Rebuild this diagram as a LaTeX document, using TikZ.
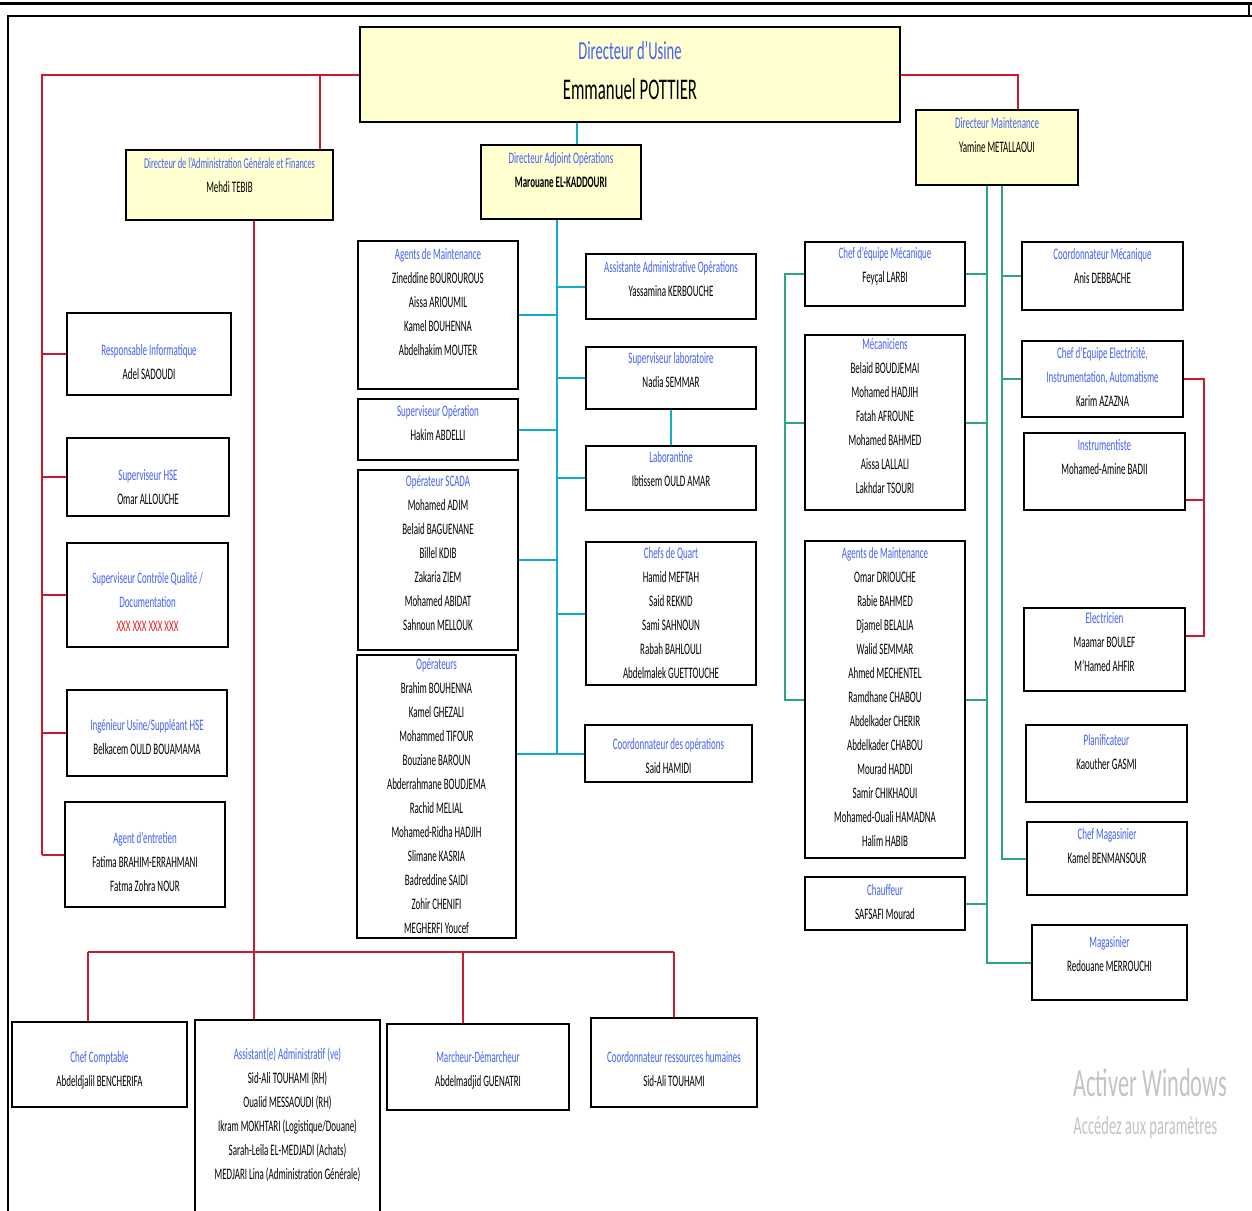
\documentclass[tikz,border=0pt]{standalone}
\usepackage{fontspec}
\setmainfont{Carlito}[FakeStretch=0.56]
\usetikzlibrary{calc}
\definecolor{dirYellow}{RGB}{255,255,208}
\definecolor{titleBlue}{RGB}{66,96,250}
\definecolor{linkRed}{RGB}{205,25,45}
\definecolor{opsCyan}{RGB}{20,170,205}
\definecolor{maintTeal}{RGB}{45,165,125}
\definecolor{wmGray}{RGB}{195,195,195}
\definecolor{xxxRed}{RGB}{235,30,30}
\tikzset{
  dir box/.style={draw=black,line width=1pt,fill=dirYellow,align=flush center,inner sep=1pt,font=\fontsize{8}{12}\selectfont},
  staff box/.style={draw=black,line width=1pt,fill=white,align=flush center,inner sep=1pt,font=\fontsize{8}{12}\selectfont},
  box size/.style 2 args={minimum width=#1,text width=#1-2pt,minimum height=#2},
  lift/.style={execute at end node={\par\vspace*{#1}}},
  red link/.style={draw=linkRed,line width=1pt},
  ops link/.style={draw=opsCyan,line width=1pt},
  maint link/.style={draw=maintTeal,line width=1pt},
  watermark/.style={text=wmGray,anchor=west,inner sep=0pt}
}

\begin{document}
\begin{tikzpicture}[x=0.5pt,y=-0.5pt]
\useasboundingbox (0,0) rectangle (1252,1210);
% page frame
\draw[line width=1.5pt] (0,3) -- (1252,3);
\draw[line width=1.2pt] (8,1215) -- (8,16) -- (1252,16);
\draw[line width=1.2pt] (1249,3) -- (1249,16);

% directors
\node[dir box,box size={270pt}{47.5pt},lift=4pt] (dirUsine) at (630,74.5) {\fontsize{13}{12}\selectfont\textcolor{titleBlue}{Directeur d'Usine}\\[8pt]\fontsize{15}{12}\selectfont Emmanuel POTTIER};
\node[dir box,box size={103.5pt}{35pt},lift=10pt] (dirAdmin) at (229.5,185) {{\fontsize{7.5}{12}\selectfont\textcolor{titleBlue}{Directeur de l'Administration Générale et Finances}}\\Mehdi TEBIB};
\node[dir box,box size={80pt}{37pt},lift=12pt] (dirAdjOps) at (561,182) {\textcolor{titleBlue}{Directeur Adjoint Opérations}\\\textbf{Marouane EL-KADDOURI}};
\node[dir box,box size={81pt}{37.5pt},lift=12pt] (dirMaint) at (997,147.5) {\textcolor{titleBlue}{Directeur Maintenance}\\Yamine METALLAOUI};

% administration
\node[staff box,box size={82pt}{41pt},lift=-8pt] (respInfo) at (149,354) {\textcolor{titleBlue}{Responsable Informatique}\\Adel SADOUDI};
\node[staff box,box size={81pt}{39pt},lift=-10pt] (supHSE) at (148,477) {\textcolor{titleBlue}{Superviseur HSE}\\Omar ALLOUCHE};
\node[staff box,box size={80.5pt}{52pt},lift=-7pt] (supQual) at (147.5,595) {\textcolor{titleBlue}{Superviseur Contrôle Qualité /}\\\textcolor{titleBlue}{Documentation}\\\textcolor{xxxRed}{XXX XXX XXX XXX}};
\node[staff box,box size={80pt}{43pt},lift=-4pt] (ingUsine) at (147,733) {\textcolor{titleBlue}{Ingénieur Usine/Suppléant HSE}\\Belkacem OULD BOUAMAMA};
\node[staff box,box size={80pt}{52.5pt},lift=-7pt] (agentEnt) at (145,854.5) {\textcolor{titleBlue}{Agent d'entretien}\\Fatima BRAHIM-ERRAHMANI\\Fatma Zohra NOUR};
\node[staff box,box size={87.5pt}{42.5pt},lift=-6pt] (chefCompt) at (99.5,1064.5) {\textcolor{titleBlue}{Chef Comptable}\\Abdeldjalil BENCHERIFA};
\node[staff box,box size={92.5pt}{105pt},lift=10pt] (assistAdm) at (287.5,1125) {\textcolor{titleBlue}{Assistant(e) Administratif (ve)}\\Sid-Ali TOUHAMI (RH)\\Oualid MESSAOUDI (RH)\\Ikram MOKHTARI (Logistique/Douane)\\Sarah-Leila EL-MEDJADI (Achats)\\MEDJARI Lina (Administration Générale)};
\node[staff box,box size={91pt}{43pt},lift=-3pt] (marcheur) at (478,1067) {\textcolor{titleBlue}{Marcheur-Démarcheur}\\Abdelmadjid GUENATRI};
\node[staff box,box size={83pt}{44.5pt},lift=-6pt] (coordRH) at (674,1062.5) {\textcolor{titleBlue}{Coordonnateur ressources humaines}\\Sid-Ali TOUHAMI};

% operations
\node[staff box,box size={80pt}{74pt},lift=13pt] (agMaintOps) at (438,315) {\textcolor{titleBlue}{Agents de Maintenance}\\Zineddine BOUROUROUS\\Aissa ARIOUMIL\\Kamel BOUHENNA\\Abdelhakim MOUTER};
\node[staff box,box size={80pt}{30.5pt},lift=6pt] (supOp) at (438,429.5) {\textcolor{titleBlue}{Superviseur Opération}\\Hakim ABDELLI};
\node[staff box,box size={80pt}{90pt},lift=7pt] (opScada) at (438,560) {\textcolor{titleBlue}{Opérateur SCADA}\\Mohamed ADIM\\Belaid BAGUENANE\\Billel KDIB\\Zakaria ZIEM\\Mohamed ABIDAT\\Sahnoun MELLOUK};
\node[staff box,box size={79.5pt}{141.5pt}] (operateurs) at (436.5,796.5) {\textcolor{titleBlue}{Opérateurs}\\Brahim BOUHENNA\\Kamel GHEZALI\\Mohammed TIFOUR\\Bouziane BAROUN\\Abderrahmane BOUDJEMA\\Rachid MELIAL\\Mohamed-Ridha HADJIH\\Slimane KASRIA\\Badreddine SAIDI\\Zohir CHENIFI\\MEGHERFI Youcef};
\node[staff box,box size={85pt}{32.5pt},lift=8pt] (assistOps) at (671,286.5) {\textcolor{titleBlue}{Assistante Administrative Opérations}\\Yassamina KERBOUCHE};
\node[staff box,box size={85pt}{31pt},lift=8pt] (supLabo) at (671,378) {\textcolor{titleBlue}{Superviseur laboratoire}\\Nadia SEMMAR};
\node[staff box,box size={85pt}{32pt},lift=9pt] (laborantine) at (671,478) {\textcolor{titleBlue}{Laborantine}\\Ibtissem OULD AMAR};
\node[staff box,box size={85pt}{71.5pt},lift=1pt] (chefsQuart) at (671,613.5) {\textcolor{titleBlue}{Chefs de Quart}\\Hamid MEFTAH\\Said REKKID\\Sami SAHNOUN\\Rabah BAHLOULI\\Abdelmalek GUETTOUCHE};
\node[staff box,box size={83.5pt}{28.5pt},lift=-2pt] (coordOps) at (668.5,753.5) {\textcolor{titleBlue}{Coordonnateur des opérations}\\Said HAMIDI};

% maintenance
\node[staff box,box size={80pt}{32pt},lift=8pt] (chefEqMeca) at (885,274) {\textcolor{titleBlue}{Chef d'équipe Mécanique}\\Feyçal LARBI};
\node[staff box,box size={80pt}{87.5pt},lift=6pt] (mecaniciens) at (885,422.5) {\textcolor{titleBlue}{Mécaniciens}\\Belaid BOUDJEMAI\\Mohamed HADJIH\\Fatah AFROUNE\\Mohamed BAHMED\\Aissa LALLALI\\Lakhdar TSOURI};
\node[staff box,box size={80pt}{158.5pt},lift=3pt] (agMaintMaint) at (885,699.5) {\textcolor{titleBlue}{Agents de Maintenance}\\Omar DRIOUCHE\\Rabie BAHMED\\Djamel BELALIA\\Walid SEMMAR\\Ahmed MECHENTEL\\Ramdhane CHABOU\\Abdelkader CHERIR\\Abdelkader CHABOU\\Mourad HADDI\\Samir CHIKHAOUI\\Mohamed-Ouali HAMADNA\\Halim HABIB};
\node[staff box,box size={80pt}{26.5pt},lift=2pt] (chauffeur) at (885,903.5) {\textcolor{titleBlue}{Chauffeur}\\SAFSAFI Mourad};
\node[staff box,box size={80.5pt}{34pt},lift=10pt] (coordMeca) at (1102.5,276) {\textcolor{titleBlue}{Coordonnateur Mécanique}\\Anis DEBBACHE};
\node[staff box,box size={80.5pt}{38pt},lift=2pt] (chefElec) at (1102.5,379) {\textcolor{titleBlue}{Chef d'Equipe Electricité,}\\\textcolor{titleBlue}{Instrumentation, Automatisme}\\Karim AZAZNA};
\node[staff box,box size={80.5pt}{38.5pt},lift=14pt] (instrum) at (1104.5,471.5) {\textcolor{titleBlue}{Instrumentiste}\\Mohamed-Amine BADII};
\node[staff box,box size={80.5pt}{41.5pt},lift=8pt] (electricien) at (1104.5,649.5) {\textcolor{titleBlue}{Electricien}\\Maamar BOULEF\\M'Hamed AHFIR};
\node[staff box,box size={80.5pt}{38.5pt},lift=12pt] (planif) at (1106.5,763.5) {\textcolor{titleBlue}{Planificateur}\\Kaouther GASMI};
\node[staff box,box size={80pt}{36.5pt},lift=13pt] (chefMag) at (1107,858.5) {\textcolor{titleBlue}{Chef Magasinier}\\Kamel BENMANSOUR};
\node[staff box,box size={77.5pt}{37.5pt},lift=8pt] (magasinier) at (1109.5,962.5) {\textcolor{titleBlue}{Magasinier}\\Redouane MERROUCHI};

% administration links
\coordinate (redX) at (42,80);
\draw[red link] (dirUsine.west) -- (dirUsine.west -| redX) -- (agentEnt.west -| redX);
\foreach \n in {respInfo,supHSE,supQual,ingUsine,agentEnt}
  \draw[red link] (\n.west -| redX) -- (\n.west);
\coordinate (adminTop) at ([xshift=-7pt]dirAdmin.north east);
\draw[red link] (adminTop) |- (dirUsine.west);
\coordinate (adminDrop) at ([xshift=12pt]dirAdmin.south);
\draw[red link] (adminDrop) -- (adminDrop |- assistAdm.north);
\coordinate (busY) at (0,952);
\coordinate (comptTop) at ([xshift=-6pt]chefCompt.north);
\coordinate (marchTop) at ([xshift=-7.5pt]marcheur.north);
\draw[red link] (comptTop |- busY) -- (coordRH.north |- busY);
\foreach \n in {comptTop,marchTop,coordRH.north}
  \draw[red link] (\n |- busY) -- (\n);

% operations links
\coordinate (opsTop) at ([xshift=8pt]dirAdjOps.north);
\draw[ops link] (opsTop) -- (opsTop |- dirUsine.south);
\coordinate (opsX) at ([xshift=-2pt]dirAdjOps.south);
\draw[ops link] (opsX) -- (opsX |- coordOps.west);
\draw[ops link] (operateurs.east |- coordOps.west) -- (coordOps.west);
\foreach \n in {agMaintOps,supOp,opScada}
  \draw[ops link] (\n.east) -- (\n.east -| opsX);
\foreach \n in {assistOps,supLabo,laborantine,chefsQuart}
  \draw[ops link] (\n.west) -- (\n.west -| opsX);
\draw[ops link] (supLabo.south) -- (laborantine.north);

% maintenance links
\coordinate (maintTop) at ([xshift=10.5pt]dirMaint.north);
\draw[red link] (dirUsine.east) -| (maintTop);
\coordinate (mA) at ([xshift=-5pt]dirMaint.south);
\coordinate (mB) at ([xshift=2.5pt]dirMaint.south);
\draw[maint link] (mA) |- (magasinier.west);
\draw[maint link] (mB) |- (chefMag.west);
\foreach \n in {chefEqMeca,mecaniciens,agMaintMaint,chauffeur}
  \draw[maint link] (\n.east) -- (\n.east -| mA);
\foreach \n in {coordMeca,chefElec}
  \draw[maint link] (\n.west) -- (\n.west -| mB);
\coordinate (mecaX) at ([xshift=-9.5pt]chefEqMeca.west);
\draw[maint link] (chefEqMeca.west) -- (mecaX) |- (agMaintMaint.west);
\draw[maint link] (mecaniciens.west) -- (mecaniciens.west -| mecaX);
\coordinate (elecX) at ([xshift=10pt]chefElec.east);
\coordinate (instrTap) at ([yshift=-14pt]instrum.east);
\coordinate (elecTap) at ([yshift=7pt]electricien.east);
\draw[red link] (chefElec.east) -- (elecX) |- (elecTap);
\draw[red link] (instrTap) -- (instrTap -| elecX);

% watermark
\node[watermark,font=\fontsize{20}{24}\selectfont] (wmActivate) at (1073,1083) {Activer Windows};
\node[watermark,font=\fontsize{13}{16}\selectfont] (wmSettings) at (1073,1128) {Accédez aux paramètres};
\end{tikzpicture}
\end{document}
